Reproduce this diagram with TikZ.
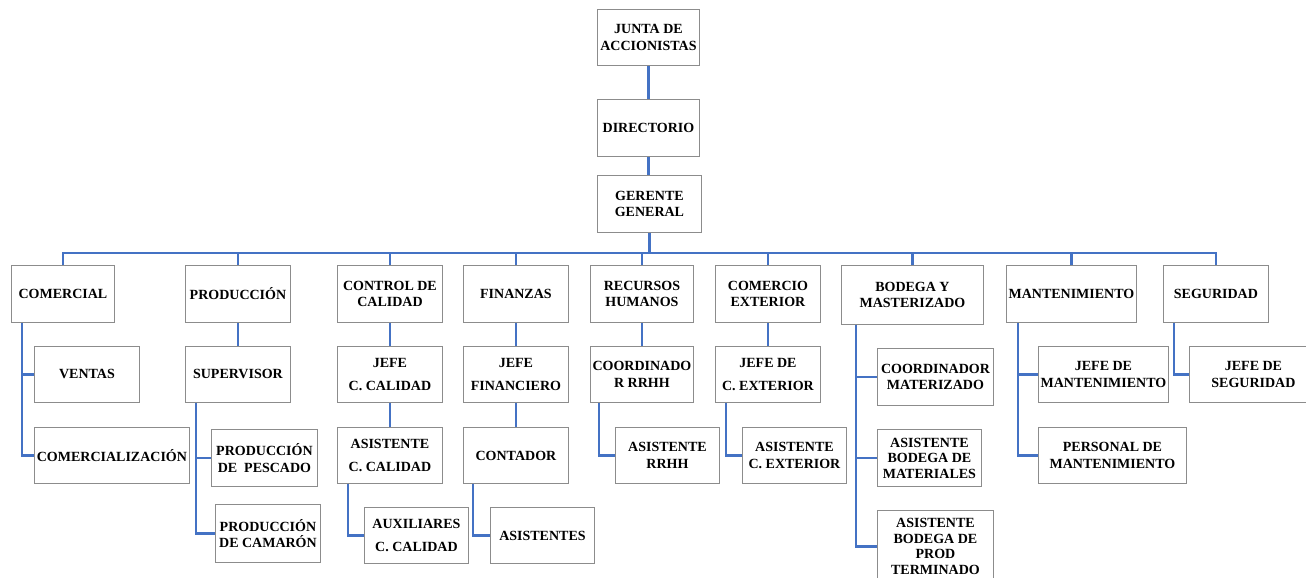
\documentclass[tikz,border=0pt]{standalone}
\usepackage{fontspec}
\setmainfont{Liberation Serif}
\definecolor{azul}{RGB}{68,114,196}
\begin{document}
\begin{tikzpicture}[x=1pt, y=-1pt,
  caja/.style={draw=gray!90, line width=0.9pt, fill=white, font=\bfseries\fontsize{14}{16.5}\selectfont, align=center, inner sep=1pt, anchor=north west},
  linea/.style={draw=azul, line width=2.5pt}]
\useasboundingbox (0,0) rectangle (1306,578);
\coordinate (bus) at (0,253);
% cabeza
\node[caja, minimum width=102, minimum height=56] (junta) at (597,9) {JUNTA DE\\ACCIONISTAS};
\node[caja, minimum width=102, minimum height=57] (directorio) at (597,99) {DIRECTORIO};
\node[caja, minimum width=104, minimum height=57] (gerente) at (597,175) {GERENTE\\GENERAL};
% departamentos
\node[caja, minimum width=103, minimum height=57] (comercial) at (11,265) {COMERCIAL};
\node[caja, minimum width=105, minimum height=57] (produccion) at (185,265) {PRODUCCIÓN};
\node[caja, minimum width=105, minimum height=57] (control) at (337,265) {CONTROL DE\\CALIDAD};
\node[caja, minimum width=105, minimum height=57] (finanzas) at (463,265) {FINANZAS};
\node[caja, minimum width=103, minimum height=57] (rrhh) at (590,265) {RECURSOS\\HUMANOS};
\node[caja, minimum width=105, minimum height=57] (comext) at (715,265) {COMERCIO\\EXTERIOR};
\node[caja, minimum width=142, minimum height=59] (bodega) at (841,265) {BODEGA Y\\MASTERIZADO};
\node[caja, minimum width=130, minimum height=57] (mant) at (1006,265) {MANTENIMIENTO};
\node[caja, minimum width=105, minimum height=57] (seguridad) at (1163,265) {SEGURIDAD};
% segundo nivel
\node[caja, minimum width=105, minimum height=56] (ventas) at (34,346) {VENTAS};
\node[caja, minimum width=105, minimum height=56] (supervisor) at (185,346) {SUPERVISOR};
\node[caja, minimum width=105, minimum height=56] (jefecc) at (337,346) {JEFE\\[6.5pt]C. CALIDAD};
\node[caja, minimum width=105, minimum height=56] (jefefin) at (463,346) {JEFE\\[6.5pt]FINANCIERO};
\node[caja, minimum width=103, minimum height=56] (coordrrhh) at (590,346) {COORDINADO\\R RRHH};
\node[caja, minimum width=105, minimum height=56] (jefecext) at (715,346) {JEFE DE\\[6.5pt]C. EXTERIOR};
\node[caja, minimum width=116, minimum height=57] (coordmat) at (877,348) {COORDINADOR\\MATERIZADO};
\node[caja, minimum width=130, minimum height=56] (jefemant) at (1038,346) {JEFE DE\\MANTENIMIENTO};
\node[caja, minimum width=128, minimum height=56] (jefeseg) at (1189,346) {JEFE DE\\SEGURIDAD};
% tercer nivel
\node[caja, minimum width=155, minimum height=56] (comercializacion) at (34,427) {COMERCIALIZACIÓN};
\node[caja, minimum width=106, minimum height=57] (pescado) at (211,429) {PRODUCCIÓN\\DE~ PESCADO};
\node[caja, minimum width=105, minimum height=56] (asistcc) at (337,427) {ASISTENTE\\[6pt]C. CALIDAD};
\node[caja, minimum width=105, minimum height=56] (contador) at (463,427) {CONTADOR};
\node[caja, minimum width=104, minimum height=56] (asistrrhh) at (615,427) {ASISTENTE\\RRHH};
\node[caja, minimum width=104, minimum height=56] (asistcext) at (742,427) {ASISTENTE\\C. EXTERIOR};
\node[caja, minimum width=104, minimum height=57, font=\bfseries\fontsize{14}{15.5}\selectfont] (asistmat) at (877,429) {ASISTENTE\\BODEGA DE\\MATERIALES};
\node[caja, minimum width=148, minimum height=56] (persmant) at (1038,427) {PERSONAL DE\\MANTENIMIENTO};
% cuarto nivel
\node[caja, minimum width=105, minimum height=58] (camaron) at (215,504) {PRODUCCIÓN\\DE CAMARÓN};
\node[caja, minimum width=104, minimum height=56] (auxcc) at (364,507) {AUXILIARES\\[6pt]C. CALIDAD};
\node[caja, minimum width=104, minimum height=56] (asistentes) at (490,507) {ASISTENTES};
\node[caja, minimum width=116, minimum height=72, font=\bfseries\fontsize{14}{15.5}\selectfont] (asistprod) at (877,510) {ASISTENTE\\BODEGA DE\\PROD\\TERMINADO};
% lineas
\draw[linea] (junta) -- (directorio);
\draw[linea] (directorio.south) -- (directorio.south |- gerente.north);
\draw[linea] (gerente.south) -- (gerente.south |- bus);
\draw[linea] (comercial.north) |- (bus -| seguridad.north) -- (seguridad.north);
\foreach \n in {produccion,control,finanzas,rrhh,comext,bodega,mant}
  \draw[linea] (\n.north) -- (\n.north |- bus);
\foreach \a/\b in {produccion/supervisor,control/jefecc,jefecc/asistcc,finanzas/jefefin,jefefin/contador,rrhh/coordrrhh,comext/jefecext}
  \draw[linea] (\a.south) -- (\b.north);
\foreach \a/\d/\b in {comercial/11/ventas,comercial/11/comercializacion,supervisor/11/pescado,supervisor/11/camaron,asistcc/11/auxcc,contador/10/asistentes,coordrrhh/9/asistrrhh,jefecext/11/asistcext,bodega/15/coordmat,bodega/15/asistmat,bodega/15/asistprod,mant/12/jefemant,mant/12/persmant,seguridad/11/jefeseg}
  \draw[linea] ([xshift=\d]\a.south west) |- (\b.west);
\end{tikzpicture}
\end{document}
